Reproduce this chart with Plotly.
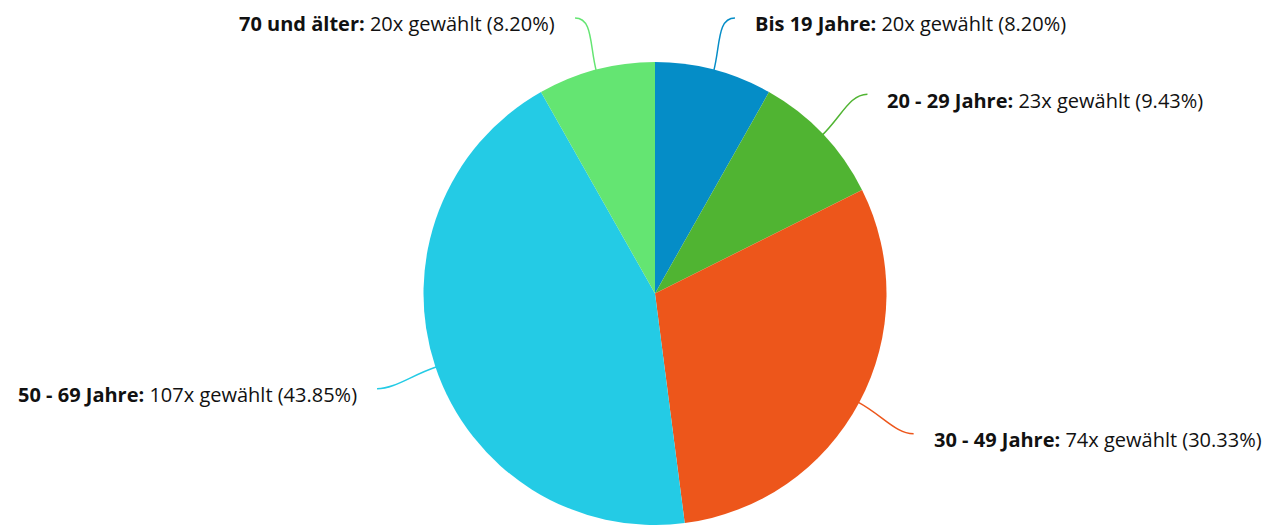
import math
import plotly.graph_objects as go

categories = ["Bis 19 Jahre", "20 - 29 Jahre", "30 - 49 Jahre", "50 - 69 Jahre", "70 und älter"]
counts = [20, 23, 74, 107, 20]
percents = [8.20, 9.43, 30.33, 43.85, 8.20]
colors = ["#058DC7", "#50B432", "#ED561B", "#24CBE5", "#64E572"]

W, H = 1278, 525
CX, CY, R = 655, 294, 232
LABEL_R = 293
MIN_Y = 18

fig = go.Figure()
fig.add_trace(go.Pie(
    labels=categories, values=counts, sort=False, direction="clockwise", rotation=0,
    marker=dict(colors=colors, line=dict(width=0)),
    textinfo="none", hoverinfo="label+value+percent", showlegend=False,
    domain=dict(x=[(CX - R) / W, (CX + R) / W], y=[max(0, (H - CY - R) / H), (H - CY + R) / H]),
))

def px(x):
    return x / W

def py(y):
    return 1 - y / H

total = sum(counts)
cum = 0
annotations = []
shapes = []
for cat, n, p, col in zip(categories, counts, percents, colors):
    mid = (cum + n / 2) / total * 2 * math.pi
    cum += n
    s, c = math.sin(mid), math.cos(mid)
    sign = 1 if s >= 0 else -1
    ex, ey = CX + (R - 2) * s, CY - (R - 2) * c
    raw_y = CY + 2 - LABEL_R * c
    shift = max(0, MIN_Y - raw_y)
    lx, ly = CX + LABEL_R * s + sign * shift, raw_y + shift
    c1x, c1y = CX + (R + 25) * s, CY - (R + 25) * c
    c2x, c2y = lx - sign * 18, ly
    path = (f"M {px(ex)},{py(ey)} C {px(c1x)},{py(c1y)} {px(c2x)},{py(c2y)} {px(lx)},{py(ly)}")
    shapes.append(dict(type="path", path=path, xref="paper", yref="paper",
                       line=dict(color=col, width=1.5)))
    annotations.append(dict(
        x=px(lx + sign * 18), y=py(ly + 6), xref="paper", yref="paper",
        xanchor="left" if sign > 0 else "right", yanchor="middle",
        text=f"<b>{cat}:</b> {n}x gewählt ({p:.2f}%)", showarrow=False,
        font=dict(family="Open Sans", size=20, color="#111111"),
    ))

fig.update_layout(
    width=W, height=H, margin=dict(l=0, r=0, t=0, b=0),
    paper_bgcolor="white", plot_bgcolor="white",
    annotations=annotations, shapes=shapes,
)
fig.write_html("out.html", config={"displayModeBar": False},
               post_script="document.body.style.margin='0';")
